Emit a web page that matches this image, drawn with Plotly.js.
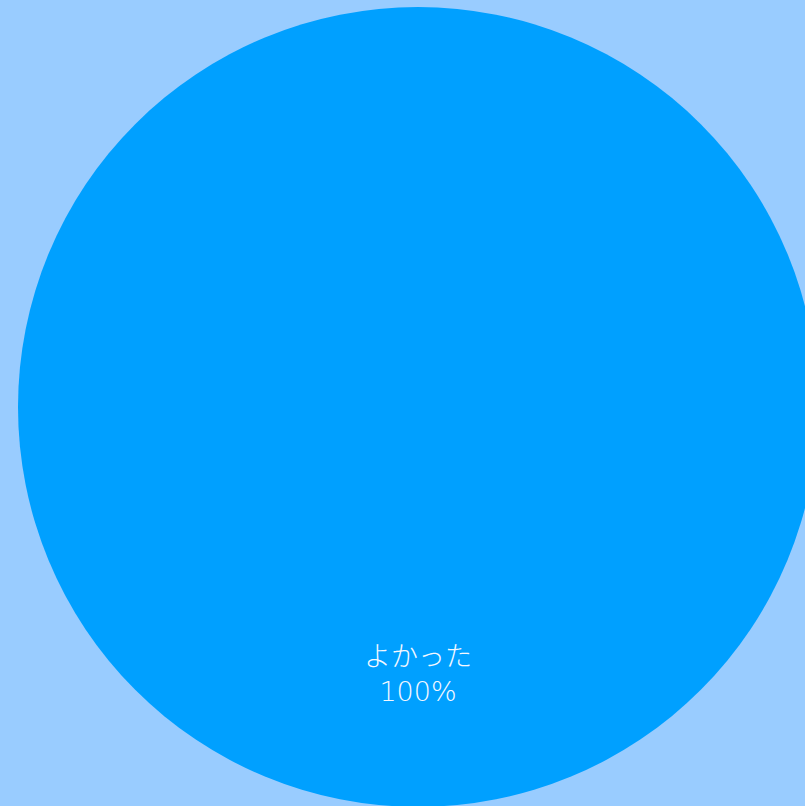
<!DOCTYPE html>
<html><head><meta charset="utf-8">
<script src="https://cdn.plot.ly/plotly-3.0.1.min.js"></script>
<style>html,body{margin:0;padding:0;background:#99ccff;overflow:hidden;width:805px;height:806px;}#chart{position:absolute;left:0;top:7px;width:836px;height:800px;}</style>
</head><body><div id="chart"></div>
<script>
const labels = ["よかった"];
const values = [100];
const colors = ["#00a0ff"];
const total = values.reduce((a, b) => a + b, 0);
const pctText = values.map(v => Math.round(v / total * 100) + "%");
const font = {family: "DejaVu Sans, Noto Sans CJK JP", size: 27, color: "#f4f8ff", weight: 300};
Plotly.newPlot("chart", [{
  type: "pie",
  labels: labels,
  values: values,
  marker: {colors: colors},
  textinfo: "none",
  sort: false,
  hoverinfo: "none",
  showlegend: false
}], {
  width: 836, height: 800,
  margin: {l: 0, r: 0, t: 0, b: 0},
  paper_bgcolor: "#99ccff",
  plot_bgcolor: "#99ccff",
  showlegend: false,
  annotations: [
    {text: labels[0] + "<br>" + pctText[0], x: 0.5, y: 0.166, xref: "paper", yref: "paper", xanchor: "center", yanchor: "middle", showarrow: false, font: font}
  ]
}, {displayModeBar: false, staticPlot: true});
</script></body></html>
